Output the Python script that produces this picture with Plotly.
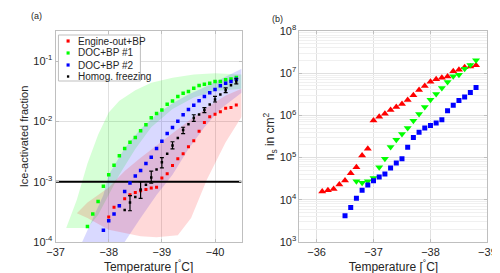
import plotly.graph_objects as go

# ---------------- Panel (a) data ----------------
temps_red_a = [-38.0, -38.1, -38.2, -38.3, -38.4, -38.5, -38.6, -38.7, -38.8, -38.9, -39.0, -39.1,
               -39.2, -39.3, -39.4, -39.5, -39.6, -39.7, -39.8, -39.9, -40.0, -40.1, -40.2, -40.3, -40.4]
frac_red = [2.6e-4, 3.76e-4, 4.0e-4, 5.2e-4, 6.1e-4, 6.6e-4, 7.1e-4, 7.4e-4, 7.9e-4, 8.1e-4, 1.15e-3, 1.36e-3,
            1.85e-3, 2.4e-3, 2.9e-3, 3.8e-3, 4.8e-3, 6.9e-3, 9.6e-3, 1.2e-2, 1.31e-2, 1.45e-2, 1.65e-2, 1.71e-2, 1.87e-2]

temps_green_a = [-37.6, -37.7, -37.8, -37.9, -38.0, -38.1, -38.2, -38.3, -38.4, -38.5, -38.6, -38.7, -38.8,
                 -38.9, -39.0, -39.1, -39.2, -39.3, -39.4, -39.5, -39.6, -39.7, -39.8, -39.9, -40.0, -40.1,
                 -40.2, -40.3, -40.4]
frac_green = [1.8e-4, 2.9e-4, 4.7e-4, 8.4e-4, 1.31e-3, 1.87e-3, 2.7e-3, 3.55e-3, 4.5e-3, 5.4e-3, 7.0e-3, 8.8e-3,
              1.15e-2, 1.36e-2, 1.54e-2, 1.92e-2, 2.18e-2, 2.58e-2, 2.93e-2, 3.13e-2, 3.55e-2, 3.94e-2, 4.14e-2,
              4.3e-2, 4.6e-2, 4.6e-2, 4.9e-2, 5.07e-2, 5.35e-2]

temps_blue_a = [-37.9, -38.0, -38.1, -38.2, -38.3, -38.4, -38.5, -38.6, -38.7, -38.8, -38.9, -39.0, -39.1,
                -39.2, -39.3, -39.4, -39.5, -39.6, -39.7, -39.8, -39.9, -40.0, -40.1, -40.2, -40.3, -40.4]
frac_blue = [1.56e-4, 2.26e-4, 2.9e-4, 4.0e-4, 6.9e-4, 9.5e-4, 1.24e-3, 1.54e-3, 2.0e-3, 2.54e-3, 3.55e-3, 4.7e-3,
             6.3e-3, 7.9e-3, 1.01e-2, 1.29e-2, 1.57e-2, 1.85e-2, 2.2e-2, 2.6e-2, 3.0e-2, 3.4e-2, 3.9e-2, 4.3e-2,
             4.6e-2, 5.0e-2]

# homogeneous freezing: points with error bars and intermediate points without
temps_homog_bar = [-38.4, -38.6, -38.8, -39.0, -39.2, -39.4, -39.6, -39.8, -40.0, -40.2, -40.4]
frac_homog_bar = [4.5e-4, 7.4e-4, 1.17e-3, 2.1e-3, 4.0e-3, 7.2e-3, 1.14e-2, 1.54e-2, 2.3e-2, 3.3e-2, 4.6e-2]
homog_err_up = [1.4e-4, 2.6e-4, 3.3e-4, 4e-4, 6e-4, 8e-4, 1.5e-3, 1.6e-3, 3e-3, 3e-3, 5e-3]
homog_err_dn = [1.2e-4, 2.1e-4, 2.2e-4, 4e-4, 5e-4, 9e-4, 1.4e-3, 1.4e-3, 2e-3, 3e-3, 4e-3]
temps_homog_pt = [-38.3, -38.5, -38.7, -38.9, -39.1, -39.3, -39.5, -39.7, -39.9, -40.1, -40.3]
frac_homog_pt = [3.4e-4, 5.6e-4, 8.9e-4, 1.6e-3, 2.9e-3, 5.3e-3, 9.0e-3, 1.3e-2, 1.9e-2, 2.8e-2, 4.0e-2]

# uncertainty bands: upper and lower edges on a shared temperature grid
band_green_T = [-37.2, -37.4, -37.6, -37.8, -38.0, -38.2, -38.5, -38.8, -39.2, -39.6, -40.0, -40.5]
band_green_hi = [1.7e-4, 5e-4, 2e-3, 6e-3, 1.4e-2, 2.2e-2, 3.3e-2, 4.4e-2, 5.3e-2, 6e-2, 6.3e-2, 6e-2]
band_green_lo = [1.7e-4, 1.7e-4, 1.7e-4, 2.8e-4, 6e-4, 1.3e-3, 3.5e-3, 8e-3, 1.6e-2, 2.5e-2, 3.2e-2, 3.5e-2]

band_blue_T = [-37.5, -37.7, -37.9, -38.0, -38.3, -38.6, -38.9, -39.2, -39.5, -39.8, -40.1, -40.5]
band_blue_hi = [1e-4, 2.5e-4, 6e-4, 1.3e-3, 3.6e-3, 7.5e-3, 1.3e-2, 2.0e-2, 2.8e-2, 3.7e-2, 5e-2, 7.5e-2]
band_blue_lo = [1e-4, 1e-4, 1e-4, 1e-4, 1e-4, 2.5e-4, 6e-4, 1.3e-3, 3.5e-3, 8e-3, 1.6e-2, 3e-2]

band_red_T = [-37.4, -37.6, -38.0, -38.3, -38.6, -38.9, -39.3, -39.55, -39.85, -40.2, -40.5]
band_red_hi = [3e-4, 4.5e-4, 8e-4, 1.5e-3, 2.5e-3, 4e-3, 7.5e-3, 1.1e-2, 1.7e-2, 2.7e-2, 3.5e-2]
band_red_lo = [3e-4, 2.5e-4, 1.6e-4, 1.4e-4, 1.25e-4, 1.2e-4, 1.3e-4, 2.5e-4, 1.1e-3, 4.5e-3, 1.2e-2]

threshold = 1e-3

# ---------------- Panel (b) data ----------------
temps_red_b = [-36.1, -36.2, -36.3, -36.4, -36.5, -36.6, -36.7, -36.8, -36.9, -37.0, -37.1, -37.2, -37.3,
               -37.4, -37.5, -37.6, -37.7, -37.8, -37.9, -38.0, -38.1, -38.2, -38.3, -38.4, -38.5, -38.6,
               -38.7, -38.8]
ns_red = [1.58e4, 1.68e4, 1.8e4, 2.29e4, 2.85e4, 4.27e4, 5.9e4, 1.12e5, 1.62e5, 7.6e5, 9.3e5, 1.10e6, 1.35e6,
          1.58e6, 1.86e6, 2.32e6, 3.0e6, 4.0e6, 5.0e6, 6.3e6, 7.2e6, 7.8e6, 8.3e6, 1.11e7, 1.2e7, 1.38e7,
          1.45e7, 1.55e7]

temps_green_b = [-36.7, -36.8, -36.9, -37.0, -37.1, -37.2, -37.3, -37.4, -37.5, -37.6, -37.7, -37.8, -37.9,
                 -38.0, -38.1, -38.2, -38.3, -38.4, -38.5, -38.6, -38.7, -38.8]
ns_green = [2.75e4, 2.54e4, 2.75e4, 3.29e4, 5.9e4, 9.4e4, 1.78e5, 2.65e5, 3.6e5, 5.0e5, 7.5e5, 1.08e6, 1.58e6,
            2.36e6, 3.2e6, 4.47e6, 6.2e6, 8.5e6, 9.2e6, 1.28e7, 1.56e7, 2.02e7]

temps_blue_b = [-36.5, -36.6, -36.7, -36.8, -36.9, -37.0, -37.1, -37.2, -37.3, -37.4, -37.5, -37.6, -37.7,
                -37.8, -37.9, -38.0, -38.1, -38.2, -38.3, -38.4, -38.5, -38.6, -38.7, -38.8]
ns_blue = [4.2e3, 6.6e3, 1.09e4, 1.68e4, 2.24e4, 2.84e4, 3.47e4, 4.08e4, 5.7e4, 7.45e4, 9.4e4, 1.75e5, 3.0e5,
           4.0e5, 5.0e5, 5.8e5, 6.6e5, 7.9e5, 1.29e6, 1.74e6, 2.24e6, 2.73e6, 3.5e6, 4.6e6]

xticks_a = [-37, -38, -39, -40]
xticks_b = [-36, -37, -38, -39]
yticks_a = [1e-4, 1e-3, 1e-2, 1e-1]
yticks_a_text = ["10<sup>-4</sup>", "10<sup>-3</sup>", "10<sup>-2</sup>", "10<sup>-1</sup>"]
yticks_b = [1e3, 1e4, 1e5, 1e6, 1e7, 1e8]
yticks_b_text = ["10<sup>3</sup>", "10<sup>4</sup>", "10<sup>5</sup>", "10<sup>6</sup>", "10<sup>7</sup>", "10<sup>8</sup>"]

legend_labels = ["Engine-out+BP", "DOC+BP #1", "DOC+BP #2", "Homog. freezing"]

RED = "#ff0000"
GREEN = "#00ff00"
BLUE = "#0000ff"
FONT = "Liberation Sans"
legend_colors = [RED, GREEN, BLUE, "black"]

minor_b = [m * d for d in yticks_b[:-1] for m in range(2, 10)]

fig = go.Figure()

# invisible carrier for the minor-grid overlay axis of panel (b)
fig.add_trace(go.Scatter(x=[temps_red_b[0]], y=[ns_red[0]], mode="markers", marker=dict(opacity=0),
                         showlegend=False, hoverinfo="skip", xaxis="x2", yaxis="y4"))

# bands
for T, lo, hi, col in [(band_green_T, band_green_lo, band_green_hi, "rgba(0,255,0,0.16)"),
                       (band_blue_T, band_blue_lo, band_blue_hi, "rgba(0,0,255,0.15)"),
                       (band_red_T, band_red_lo, band_red_hi, "rgba(255,0,0,0.15)")]:
    fig.add_trace(go.Scatter(x=T, y=lo, mode="lines", line=dict(width=0, color=col),
                             hoverinfo="skip", showlegend=False, xaxis="x", yaxis="y"))
    fig.add_trace(go.Scatter(x=T, y=hi, mode="lines", line=dict(width=0, color=col), fill="tonexty",
                             fillcolor=col, hoverinfo="skip", showlegend=False, xaxis="x", yaxis="y"))

# threshold line
fig.add_trace(go.Scatter(x=[-37, -40.5], y=[threshold, threshold], mode="lines",
                         line=dict(color="black", width=2), showlegend=False, xaxis="x", yaxis="y"))

fig.add_trace(go.Scatter(x=temps_red_a, y=frac_red, mode="markers", name=legend_labels[0], showlegend=False,
                         marker=dict(symbol="square", size=3, color=RED), xaxis="x", yaxis="y"))
fig.add_trace(go.Scatter(x=temps_green_a, y=frac_green, mode="markers", name=legend_labels[1], showlegend=False,
                         marker=dict(symbol="square", size=3.5, color=GREEN), xaxis="x", yaxis="y"))
fig.add_trace(go.Scatter(x=temps_blue_a, y=frac_blue, mode="markers", name=legend_labels[2], showlegend=False,
                         marker=dict(symbol="square", size=3.5, color=BLUE), xaxis="x", yaxis="y"))
fig.add_trace(go.Scatter(x=temps_homog_pt, y=frac_homog_pt, mode="markers", name=legend_labels[3],
                         showlegend=False, marker=dict(symbol="square", size=2.5, color="black"),
                         xaxis="x", yaxis="y"))
fig.add_trace(go.Scatter(x=temps_homog_bar, y=frac_homog_bar, mode="markers", name=legend_labels[3],
                         showlegend=False, marker=dict(symbol="square", size=2.5, color="black"),
                         error_y=dict(type="data", symmetric=False, array=homog_err_up, arrayminus=homog_err_dn,
                                      color="black", thickness=1.2, width=2),
                         xaxis="x", yaxis="y"))

# panel b
fig.add_trace(go.Scatter(x=temps_red_b, y=ns_red, mode="markers", showlegend=False,
                         marker=dict(symbol="triangle-up", size=7, color=RED), xaxis="x2", yaxis="y2"))
fig.add_trace(go.Scatter(x=temps_green_b, y=ns_green, mode="markers", showlegend=False,
                         marker=dict(symbol="triangle-down", size=7, color=GREEN), xaxis="x2", yaxis="y2"))
fig.add_trace(go.Scatter(x=temps_blue_b, y=ns_blue, mode="markers", showlegend=False,
                         marker=dict(symbol="square", size=5, color=BLUE), xaxis="x2", yaxis="y2"))

axis_common = dict(showline=True, linecolor="#bfbfbf", linewidth=1, mirror="ticks",
                   ticks="inside", ticklen=3, tickcolor="#bfbfbf",
                   gridcolor="#e0e0e0", zeroline=False,
                   tickfont=dict(family=FONT, size=11, color="#262626"))
minor_common = dict(type="log", showticklabels=False, ticks="", showline=False, zeroline=False,
                    showgrid=True, gridcolor="#f0f0f0", gridwidth=1)

def py(p):
    return (234 - p) / 211

shapes = [dict(type="rect", xref="paper", yref="paper", x0=43/500, x1=128/500, y0=py(73), y1=py(27),
               line=dict(color="#bfbfbf", width=1), fillcolor="white", layer="above")]
annotations = []
rows_y = [33, 45, 57, 68.5]
for lab, col, ry in zip(legend_labels, legend_colors, rows_y):
    s = 1.6 if col != "black" else 1.2
    shapes.append(dict(type="rect", xref="paper", yref="paper", x0=(53 - s)/500, x1=(53 + s)/500,
                       y0=py(ry + s), y1=py(ry - s), line=dict(width=0), fillcolor=col, layer="above"))
    annotations.append(dict(text=lab, x=61/500, y=py(ry), xref="paper", yref="paper", showarrow=False,
                            xanchor="left", yanchor="middle",
                            font=dict(size=10, family=FONT, color="#262626")))

annotations += [
    dict(text="(a)", x=12/500, y=1.04, xref="paper", yref="paper", showarrow=False,
         xanchor="left", yanchor="bottom", font=dict(size=9, family=FONT)),
    dict(text="(b)", x=262/500, y=1.025, xref="paper", yref="paper", showarrow=False,
         xanchor="left", yanchor="bottom", font=dict(size=9, family=FONT)),
]

fig.update_layout(
    width=500, height=273,
    margin=dict(l=0, r=0, t=23, b=39),
    paper_bgcolor="white", plot_bgcolor="white",
    font=dict(family=FONT, size=11, color="#262626"),
    showlegend=False,
    xaxis=dict(domain=[40/500, 233/500], range=[-37, -40.5], tickvals=xticks_a,
               title=dict(text="Temperature [<sup>°</sup>C]", font=dict(size=12), standoff=4),
               anchor="y", **axis_common),
    yaxis=dict(domain=[0, 1], type="log", range=[-4, -0.5], tickvals=yticks_a, ticktext=yticks_a_text,
               title=dict(text="Ice-activated fraction", font=dict(size=11), standoff=2),
               anchor="x", **axis_common),
    xaxis2=dict(domain=[293/500, 488/500], range=[-35.7, -39], tickvals=xticks_b,
                title=dict(text="Temperature [<sup>°</sup>C]", font=dict(size=12), standoff=4),
                anchor="y2", **axis_common),
    yaxis2=dict(domain=[0, 1], type="log", range=[3, 8], tickvals=yticks_b, ticktext=yticks_b_text,
                title=dict(text="n<sub>s</sub> in cm<sup>2</sup>", font=dict(size=12), standoff=2),
                anchor="x2", **axis_common),
    yaxis4=dict(overlaying="y2", anchor="x2", range=[3, 8], tickvals=minor_b, **minor_common),
    shapes=shapes,
    annotations=annotations,
)

fig.write_html("out.html")
